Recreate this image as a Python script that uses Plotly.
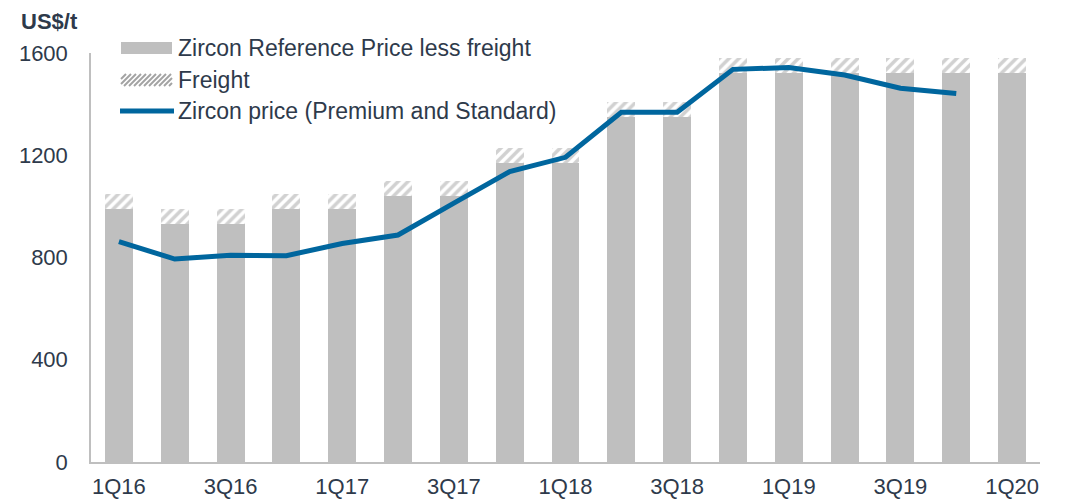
import plotly.graph_objects as go

quarters = ["1Q16", "2Q16", "3Q16", "4Q16", "1Q17", "2Q17", "3Q17", "4Q17",
            "1Q18", "2Q18", "3Q18", "4Q18", "1Q19", "2Q19", "3Q19", "4Q19", "1Q20"]
ref_less_freight = [990, 930, 930, 990, 990, 1040, 1040, 1170,
                    1170, 1350, 1350, 1520, 1520, 1520, 1520, 1520, 1520]
freight = [60, 60, 60, 60, 60, 60, 60, 60,
           60, 60, 60, 60, 60, 60, 60, 60, 60]
zircon_price = [862, 794, 809, 807, 855, 888, 1013, 1136,
                1192, 1368, 1368, 1536, 1543, 1514, 1462, 1442]
tick_labels = ["1Q16", "3Q16", "1Q17", "3Q17", "1Q18", "3Q18", "1Q19", "3Q19", "1Q20"]
legend_names = ["Zircon Reference Price less freight", "Freight",
                "Zircon price (Premium and Standard)"]

txt = "#2E3A4B"
font = "Liberation Sans, Arial, sans-serif"
gray = "#BFBFBF"
hatch = "#A3A3A3"
blue = "#00669E"

# page has an 8px body margin, so the figure is drawn 8px smaller and
# all screen positions below are shifted by that offset
OFF = 8
FW, FH = 1068 - OFF, 502 - OFF
L, R, T, B = 91 - OFF, 1040 - OFF, 53 - OFF, 462 - OFF
W, H = R - L, B - T
def px(x): return (x - OFF - L) / W
def py(y): return (B - (y - OFF)) / H

fig = go.Figure()
fig.add_trace(go.Bar(x=quarters, y=ref_less_freight, name=legend_names[0], showlegend=False,
                     marker=dict(color=gray, line=dict(width=0)), width=0.5))
fig.add_trace(go.Bar(x=quarters, y=freight, name=legend_names[1], width=0.5, showlegend=False,
                     marker=dict(color="white", line=dict(width=0),
                                 pattern=dict(shape="/", fgcolor=hatch, bgcolor="white",
                                              size=7, solidity=0.5))))
fig.add_trace(go.Scatter(x=quarters[:len(zircon_price)], y=zircon_price, mode="lines",
                         name=legend_names[2], showlegend=False,
                         line=dict(color=blue, width=5)))

# hand-drawn legend (wide swatches like the original)
shapes = []
sx0, sx1 = 121, 172
shapes.append(dict(type="rect", xref="paper", yref="paper", x0=px(sx0), x1=px(sx1),
                   y0=py(54), y1=py(42), fillcolor=gray, line=dict(width=0)))
hy0, hy1 = 74, 86
hh = hy1 - hy0
x = sx0 - hh
while x < sx1:
    ax, ay, bx, by = x, hy1, x + hh, hy0
    if ax < sx0:
        ay = hy1 - (sx0 - ax); ax = sx0
    if bx > sx1:
        by = hy0 + (bx - sx1); bx = sx1
    if bx > ax:
        shapes.append(dict(type="line", xref="paper", yref="paper", x0=px(ax), y0=py(ay),
                           x1=px(bx), y1=py(by), line=dict(color=hatch, width=2)))
    x += 5
shapes.append(dict(type="line", xref="paper", yref="paper", x0=px(120), x1=px(174),
                   y0=py(111), y1=py(111), line=dict(color=blue, width=5)))

annotations = [dict(text="<b>US$/t</b>", xref="paper", yref="paper", x=px(19), y=py(21),
                    xanchor="left", yanchor="middle", showarrow=False,
                    font=dict(size=22, color=txt))]
for name, ty in zip(legend_names, [48, 80, 111]):
    annotations.append(dict(text=name, xref="paper", yref="paper", x=px(176), y=py(ty),
                            xanchor="left", yanchor="middle", showarrow=False,
                            font=dict(size=23, color=txt)))

fig.update_layout(
    width=FW, height=FH,
    margin=dict(l=L, r=FW - R, t=T, b=FH - B, autoexpand=False),
    barmode="stack",
    plot_bgcolor="white", paper_bgcolor="white",
    font=dict(family=font, size=22, color=txt),
    showlegend=False,
    shapes=shapes,
    annotations=annotations,
)
fig.update_xaxes(type="category", categoryorder="array", categoryarray=quarters,
                 tickvals=tick_labels, ticktext=tick_labels, range=[-0.5, 16.5],
                 showline=True, linecolor=gray, linewidth=1.5, ticks="",
                 showgrid=False, automargin=False, ticklabelstandoff=4,
                 tickfont=dict(size=22, color=txt))
fig.update_yaxes(range=[0, 1600], tickvals=[0, 400, 800, 1200, 1600],
                 showline=True, linecolor=gray, linewidth=1.5, ticks="",
                 showgrid=False, zeroline=False, ticklabelstandoff=17, automargin=False,
                 tickfont=dict(size=22, color=txt))

fig.write_html("out.html")
